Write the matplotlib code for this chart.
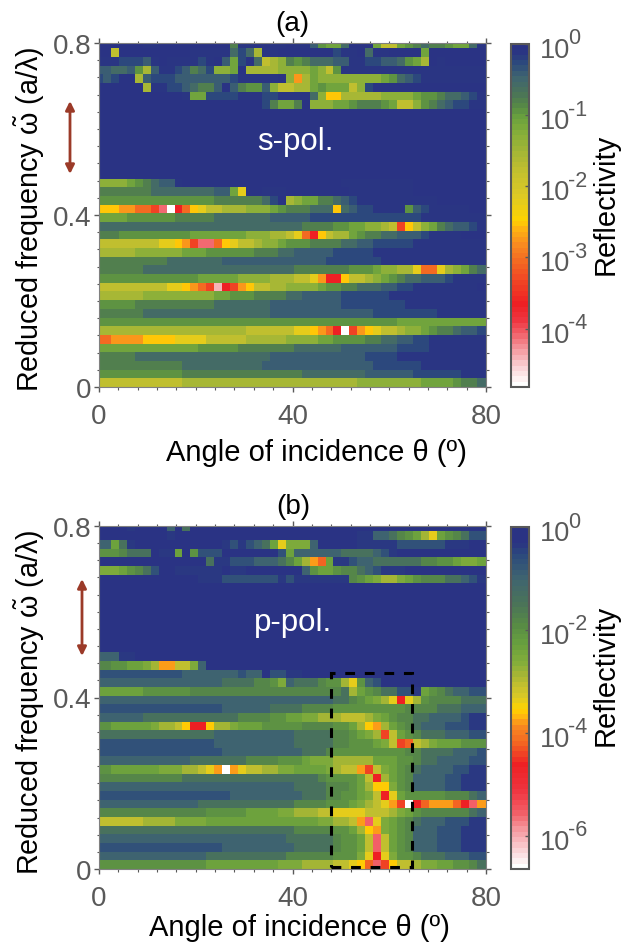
#!/usr/bin/env python3
"""Reflectivity maps of a photonic slab, s-pol. (a) and p-pol. (b)."""

import numpy as np
import matplotlib
matplotlib.use('Agg')
import matplotlib.pyplot as plt
from matplotlib.colors import LinearSegmentedColormap, LogNorm
from matplotlib.patches import FancyArrowPatch, Rectangle

plt.rcParams['font.family'] = ['Liberation Sans', 'DejaVu Sans']
plt.rcParams['mathtext.fontset'] = 'custom'
plt.rcParams['mathtext.rm'] = 'Liberation Sans'
plt.rcParams['mathtext.it'] = 'Liberation Sans'
plt.rcParams['mathtext.default'] = 'rm'

W, H = 633, 945

# ── Data: one char per cell, top row first ───────────────────────────
CODES = '0123456789abcdefghij'

# log10(reflectivity) of each code in the two panels
S_LOG = [-0.04, -0.15, -0.30, -0.44, -0.60, -0.79, -0.93, -1.12, -1.30, -1.56,
         -1.78, -2.20, -2.53, -2.74, -3.04, -3.32, -3.68, -4.10, -4.43, -4.82]
P_LOG = [-0.06, -0.39, -0.65, -1.00, -1.39, -1.77, -2.06, -2.32, -2.58, -2.84,
         -3.06, -3.42, -3.61, -3.84, -4.16, -4.42, -4.65, -5.61, -6.03, -6.65]

ZERO = '0000000 0000000 0000000 0000000 0000000 0000000 0000000'

S_ROWS = [
    '0000001 1000000 0005110 0110113 6774000 7aa7654 5567741',
    '00a0000 0000011 1114249 1100000 0021104 1100007 0000000',
    '1112223 1011112 1037204 a985654 4433112 2334679 0100000',
    '3344369 3112354 2887099 9988887 8a61111 1111111 1111111',
    '2320093 2223333 3332111 1108d97 8888888 8764321 1111111',
    '0000009 1122345 5303566 38aa997 6777a82 0000000 0000000',
    '0000000 0000177 2222111 2211114 8cc9999 9888876 6544321',
    '0000000 0000000 0000000 2577508 8877655 567aa86 5432211',
    ZERO, ZERO, ZERO, ZERO, ZERO, ZERO, ZERO, ZERO,
    '8888765 4331000 0000000 0000000 0001111 1111100 0000000',
    '5555555 4444444 4337b00 1110000 0000111 1111100 0000000',
    '6666666 6666666 6555555 4209877 5543211 1111111 1000000',
    'cccddee fhjgecb aa99988 8765554 44c4322 1111632 1111100',
    '7777666 6665555 5444444 4333332 2222222 2222221 1111111',
    '4444444 4444444 4444444 4444455 5566778 89afca8 7543321',
    '5556666 6666677 7777788 899abeg ca99765 5443332 1111000',
    'aaaaaaa abbcdfh hecbaa9 8876665 5554433 2222211 1111111',
    '9999988 8888777 6666665 5544333 3322222 1111111 1111111',
    '5555555 5544444 4433333 3333333 3222222 2111111 1111111',
    '5555554 4444444 4444444 4444555 5555666 78899be eb98754',
    '6666666 6666667 7777888 8999aab dggcaa9 8765443 3321111',
    'aaaaaaa aabbcde figfdca a998888 7665544 4332211 1111110',
    '9999998 8888888 8776665 5554433 3332222 2211111 1111111',
    '6666655 5555555 5444444 4333333 3332222 2222111 1111111',
    '5555554 4444444 4444444 4333333 3333333 2222222 2111111',
    '6666666 6666666 6666666 6666666 6666666 6667777 7777777',
    '9999999 9999999 99999aa aaaabbc degjfdc baa9887 6554332',
    'eeddddc cccbbbb aaaaa99 9998888 7766665 5443322 1111111',
    '7777777 7777776 6666555 5555444 4443333 3332222 1111111',
    '5555544 4444444 4444444 4333333 3333332 2221111 1111111',
    '5555555 5555444 4444444 3333333 3333333 2222221 1111111',
    '6666666 6666555 5555555 5555544 4444443 3333322 2222111',
    'aaaaaaa aaaa999 9999999 9999999 9999988 8888887 7776554',
]

P_ROWS = [
    '0000100 0030400 0000000 0000000 0000000 0000000 0000000',
    '0000000 0010000 0000000 0000000 0000011 3345679 b765422',
    '3374100 0000000 0012123 47b8883 0000011 1112222 2211100',
    '6665444 0117062 2200000 0027333 3334444 3210000 0000000',
    '0000000 0000000 4112223 334579d e711233 4444445 5667887',
    '8887654 2001111 1101100 0000036 7765543 2111000 0000000',
    '0000000 0000001 1122222 2212111 1111567 8998765 5544321',
    ZERO, ZERO, ZERO, ZERO, ZERO, ZERO, ZERO, ZERO,
    '3331100 0000000 0000000 0000000 0000000 0000000 0000000',
    '5566778 9ddaa83 0000000 0000000 0000000 0000000 0000000',
    '2222222 2222333 3333233 0221100 0000000 0000000 0000000',
    '3333333 3333333 3344445 5683444 5669b63 2000000 0000000',
    '7777776 6666655 5555555 5555555 5554976 5442217 6543322',
    '3333333 3333333 3333333 3333333 3344567 89bgb96 5555444',
    '2222222 2222222 2233333 3444455 5566666 6666555 5444333',
    '3333334 4444444 4444555 5667788 999aaa9 8765544 3333211',
    '6677777 899acgg c998777 6666655 556679c d976543 3322211',
    '4444444 4444444 4333333 3333444 4455678 9fa7654 4433322',
    '2222222 2222222 2333333 3333444 4455666 78afea9 8777666',
    '2222222 2222222 2233333 3333344 4566666 6666554 4443332',
    '3333333 3333344 4444455 5566678 8899999 7776654 4333322',
    '6677777 788899a bdjdbaa 9988777 789aadf a876543 3332211',
    '5555555 5555444 4444444 4444444 566667a g976533 3322111',
    '3333333 3333333 3333333 3333444 4555679 cc86533 3322111',
    '2222222 2222222 2223333 3333344 4556678 agb7666 6655543',
    '3333333 3333334 4444444 4444555 5666789 abdfjge dddeghd',
    '5555555 5555555 6666677 7788999 aabbbba aa98765 5555543',
    'aaaaaa9 9998888 7777777 7777777 8899adh b876543 3322211',
    '4444444 4444444 4444444 4444555 556679c d876533 3222111',
    '3333333 3333333 3333333 3334444 445667a ha76533 3222111',
    '2222222 2222222 2233333 3333444 445667a ha76533 3222111',
    '3333333 3333333 4444444 4445555 556668b gb86654 4433322',
    '6666666 6666666 7777777 7788899 99aabce hfcaa98 8776654',
]

X_MAJOR = [0, 40, 80]
Y_MAJOR = [0, 0.4, 0.8]
Y_MAJOR_LABELS = ['0', '0.4', '0.8']
S_CBAR_EXP = [0, -1, -2, -3, -4]
P_CBAR_EXP = [0, -2, -4, -6]

# ── Colormaps: positions (0 = bottom) ────────────────────────────────
CMAP_COLORS = ['#ffffff', '#fad0d4', '#f59aa0', '#f26068', '#ef3540', '#ee2024',
               '#f04524', '#f36a22', '#f88a20', '#ffb510', '#ffd400', '#dcc925',
               '#c4c02e', '#a5b635', '#85ae3a', '#68a03e', '#578a45', '#4b7458',
               '#3f6470', '#2c4a7c', '#2a3384', '#2a3384']
S_CMAP_Y = [1075, 1020, 970, 920, 880, 830, 760, 700, 650, 600, 575, 500,
            430, 370, 310, 260, 230, 190, 140, 100, 60, 47]
P_CMAP_Y = [1082, 1030, 970, 920, 850, 770, 735, 700, 650, 625, 600, 565,
            530, 495, 460, 400, 340, 280, 200, 130, 90, 50]


def make_cmap(name, ys):
    ys = np.array(ys, dtype=float)
    pos = (ys[0] - ys) / (ys[0] - ys[-1])
    return LinearSegmentedColormap.from_list(name, list(zip(pos, CMAP_COLORS)), N=64)


def decode(rows, logs):
    out = []
    for row in rows[::-1]:
        out.append([10.0 ** logs[CODES.index(c)] for c in row.replace(' ', '')])
    return np.array(out)


# ── Cell edges: first column and top row are cut by the axes ─────────
THETA_EDGES = np.clip(-0.82 + 1.643 * np.arange(50), 0, 80)
THETA_EDGES[-1] = 80
FREQ_EDGES = np.clip(0.0202 * np.arange(41), 0, 0.8)

GREY = '#595959'
FS_TICK = 20
FS_LABEL = 21


def box(l, t, r, b):
    return [l / W, 1 - b / H, (r - l) / W, (b - t) / H]


def put(x, y, s, rot=0, size=FS_LABEL, color='black', ha='center'):
    fig.text(x / W, 1 - y / H, s, rotation=rot, ha=ha, va='center',
             fontsize=size, color=color)


def panel(top, bottom, rows, logs, cmap_name, cmap_y, exps, pol, pol_xy):
    ax = fig.add_axes(box(99, top, 486, bottom))
    vmin = 10.0 ** logs[-1]
    mesh = ax.pcolormesh(THETA_EDGES, FREQ_EDGES, decode(rows, logs),
                         cmap=make_cmap(cmap_name, cmap_y),
                         norm=LogNorm(vmin=vmin, vmax=1), antialiased=False)
    ax.set_xlim(0, 80)
    ax.set_ylim(0, 0.8)
    ax.set_xticks(X_MAJOR)
    ax.set_yticks(Y_MAJOR, Y_MAJOR_LABELS)
    ax.set_xticks(np.arange(0, 81, 4), minor=True)
    ax.set_yticks(np.arange(0, 0.81, 0.04), minor=True)
    ax.tick_params(which='major', length=3.5, width=1.0, color=GREY, top=True, right=True,
                   labelsize=FS_TICK, labelcolor=GREY, pad=2)
    ax.tick_params(axis='x', which='major', pad=8)
    ax.tick_params(which='minor', length=1.8, width=0.8, color=GREY, top=True, right=True)
    for s in ax.spines.values():
        s.set_color('#808080')
        s.set_linewidth(0.8)
    ax.text(pol_xy[0], pol_xy[1], pol, color='white', fontsize=22.5, ha='center', va='center')

    cax = fig.add_axes(box(511, top + 1, 529, bottom))
    cb = fig.colorbar(mesh, cax=cax)
    cb.set_ticks([10.0 ** e for e in exps], labels=['' for e in exps])
    cb.minorticks_off()
    cb.ax.tick_params(direction='in', length=3, width=1.0, color=GREY)
    cb.outline.set_edgecolor(GREY)
    cb.outline.set_linewidth(1.5)
    # power labels set by hand, the exponent is larger than mathtext makes it
    for e in exps:
        y = top + 1 + (bottom - top - 1) * e / logs[-1]
        put(540, y + 6, '10', size=19.5, color=GREY, ha='left')
        put(568, y - 6, str(e), size=15.5, color=GREY, ha='left')
    return ax


fig = plt.figure(figsize=(W / 100, H / 100), dpi=100, facecolor='white')

ax_a = panel(44, 388, S_ROWS, S_LOG, 's_map', S_CMAP_Y, S_CBAR_EXP, 's-pol.', (40.6, 0.571))
ax_b = panel(527, 870, P_ROWS, P_LOG, 'p_map', P_CMAP_Y, P_CBAR_EXP, 'p-pol.', (40.1, 0.575))

# ── Dashed box in (b) ────────────────────────────────────────────────
ax_b.add_patch(Rectangle((48, 0.004), 16.8, 0.453, fill=False, edgecolor='black',
                         linewidth=2.2, linestyle=(0, (3.2, 3.2)), clip_on=False, zorder=5))

# ── Labels in figure pixels ──────────────────────────────────────────
Y_LABEL = r'Reduced frequency $\tilde{\omega}$ (a/$\lambda$)'
X_LABEL = 'Angle of incidence \u03b8 (\u00ba)'

put(292, 24, '(a)', size=20)
put(293, 507, '(b)', size=20)
put(30, 219, Y_LABEL, 90, size=20.7)
put(30, 702, Y_LABEL, 90, size=20.7)
put(316.5, 453, X_LABEL)
put(299, 928, X_LABEL)
put(606, 204, 'Reflectivity', 90)
put(606, 675, 'Reflectivity', 90)

# ── Bandgap arrows ───────────────────────────────────────────────────
for x, y0, y1 in [(70, 102, 175), (82, 580, 657)]:
    fig.add_artist(FancyArrowPatch(
        (x / W, 1 - y0 / H), (x / W, 1 - y1 / H), transform=fig.transFigure,
        arrowstyle='<|-|>', mutation_scale=13, color='#9b3a28', linewidth=2, shrinkA=0, shrinkB=0))

fig.savefig('out.png', dpi=100)
